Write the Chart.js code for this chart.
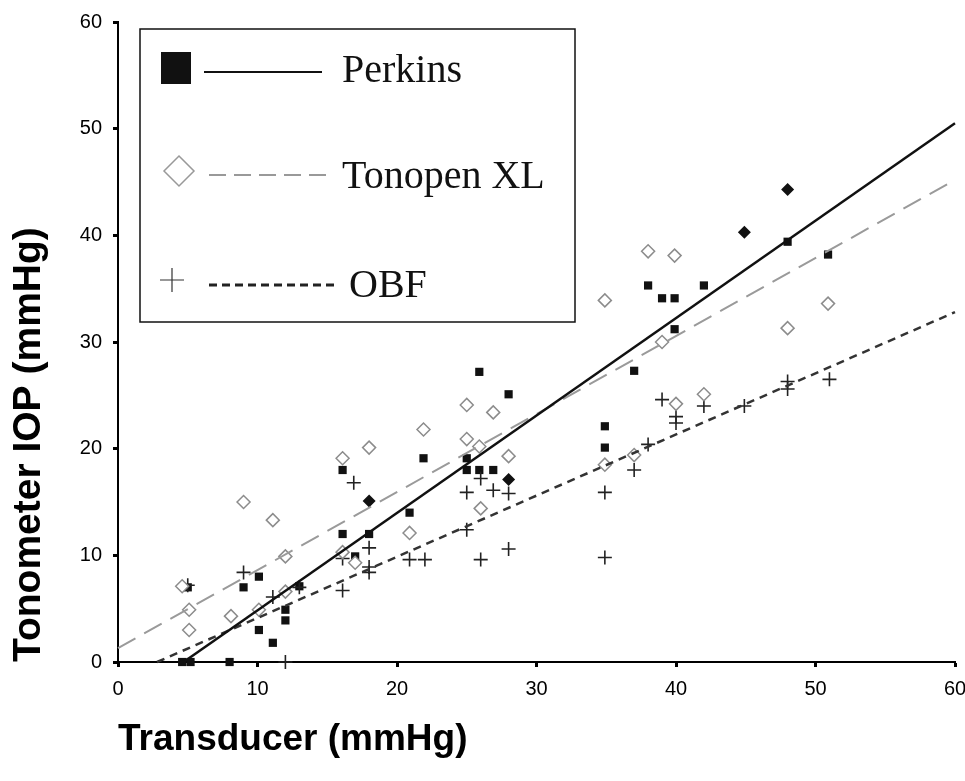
<!DOCTYPE html>
<html>
<head>
<meta charset="utf-8">
<script src="https://cdn.jsdelivr.net/npm/chart.js@4.4.1/dist/chart.umd.min.js"></script>
<style>
  html, body { margin: 0; padding: 0; background: #fff; }
  #wrap { width: 965px; height: 781px; }
</style>
</head>
<body>
<div id="wrap"><canvas id="iopChart" width="965" height="781"></canvas></div>
<script>
// --- Data (x = transducer mmHg, y = tonometer mmHg) ---
const perkinsX = [4.6, 5.2, 8, 5, 9, 10.1, 10.1, 11.1, 12, 12, 13, 16.1, 16.1, 17, 18, 20.9, 21.9, 25, 25, 25.9, 26.9, 25.9, 28, 34.9, 34.9, 37, 38, 39, 39.9, 39.9, 42, 48, 50.9];
const perkinsY = [0, 0, 0, 7, 7, 8, 3, 1.8, 4.9, 3.9, 7.1, 18, 12, 9.9, 12, 14, 19.1, 19.1, 18, 18, 18, 27.2, 25.1, 22.1, 20.1, 27.3, 35.3, 34.1, 34.1, 31.2, 35.3, 39.4, 38.2];

// Perkins points overlapping a Tonopen point (drawn as filled diamonds)
const overlapX = [18, 28, 44.9, 48];
const overlapY = [15.1, 17.1, 40.3, 44.3];

const tonopenX = [4.6, 5.1, 5.1, 8.1, 9, 10.1, 11.1, 12, 12, 16.1, 16.1, 17, 18, 20.9, 21.9, 25, 25, 25.9, 26, 26.9, 28, 34.9, 34.9, 37, 38, 39, 39.9, 40, 42, 48, 50.9];
const tonopenY = [7.1, 4.9, 3.0, 4.3, 15, 4.9, 13.3, 9.9, 6.6, 19.1, 10.3, 9.3, 20.1, 12.1, 21.8, 24.1, 20.9, 20.2, 14.4, 23.4, 19.3, 33.9, 18.5, 19.4, 38.5, 30, 38.1, 24.2, 25.1, 31.3, 33.6];

const obfX = [5, 9, 11.1, 12, 13, 16.1, 16.1, 16.9, 18, 18, 18, 20.9, 22, 25, 25, 26, 26, 26.9, 28, 28, 34.9, 34.9, 37, 38, 39, 40, 40, 42, 44.9, 48, 48, 51];
const obfY = [7.2, 8.4, 6.1, 0, 7, 9.7, 6.7, 16.8, 10.7, 8.9, 8.4, 9.6, 9.6, 15.9, 12.4, 17.2, 9.6, 16.1, 15.8, 10.6, 15.9, 9.8, 18, 20.4, 24.6, 23, 22.4, 24, 24, 26.3, 25.6, 26.5];

// Regression line end points, as drawn
const perkinsFitX = [4.7, 60];
const perkinsFitY = [0, 50.5];
const tonopenFitX = [0, 60];
const tonopenFitY = [1.3, 45.2];
const obfFitX = [2.8, 60];
const obfFitY = [0, 32.8];

const xTicks = [0, 10, 20, 30, 40, 50, 60];
const yTicks = [0, 10, 20, 30, 40, 50, 60];

function pts(xs, ys) {
    return xs.map((x, i) => ({ x: x, y: ys[i] }));
}

const SANS = '"Liberation Sans", Arial, Helvetica, sans-serif';
const SERIF = '"Liberation Serif", "Times New Roman", serif';

// --- Legend box drawn inside the plot, like the original ---
const boxLegend = {
    id: 'boxLegend',
    afterDraw(chart) {
        const ctx = chart.ctx;
        const ox = chart.chartArea.left;   // 118
        const oy = chart.chartArea.top;    // 22
        const labels = ['Perkins', 'Tonopen XL', 'OBF'];
        ctx.save();
        ctx.fillStyle = '#fff';
        ctx.fillRect(ox + 22, oy + 7, 435, 293);
        ctx.strokeStyle = '#111';
        ctx.lineWidth = 1.5;
        ctx.strokeRect(ox + 22, oy + 7, 435, 293);

        // Perkins: filled square + solid line
        ctx.fillStyle = '#111';
        ctx.fillRect(ox + 43, oy + 30, 30, 32);
        ctx.beginPath();
        ctx.setLineDash([]);
        ctx.lineWidth = 2;
        ctx.strokeStyle = '#111';
        ctx.moveTo(ox + 86, oy + 50);
        ctx.lineTo(ox + 204, oy + 50);
        ctx.stroke();

        // Tonopen: open diamond + long dashes
        const dx = ox + 61, dy = oy + 149;
        ctx.beginPath();
        ctx.moveTo(dx, dy - 15);
        ctx.lineTo(dx + 15, dy);
        ctx.lineTo(dx, dy + 15);
        ctx.lineTo(dx - 15, dy);
        ctx.closePath();
        ctx.lineWidth = 1.5;
        ctx.strokeStyle = '#999';
        ctx.stroke();
        ctx.beginPath();
        ctx.setLineDash([17, 8]);
        ctx.lineWidth = 2;
        ctx.moveTo(ox + 91, oy + 153);
        ctx.lineTo(ox + 211, oy + 153);
        ctx.stroke();

        // OBF: plus + short dashes
        const px = ox + 54, py = oy + 258;
        ctx.beginPath();
        ctx.setLineDash([]);
        ctx.lineWidth = 1.2;
        ctx.strokeStyle = '#333';
        ctx.moveTo(px - 12, py);
        ctx.lineTo(px + 12, py);
        ctx.moveTo(px, py - 12);
        ctx.lineTo(px, py + 12);
        ctx.stroke();
        ctx.beginPath();
        ctx.setLineDash([8, 5]);
        ctx.lineWidth = 3;
        ctx.strokeStyle = '#222';
        ctx.moveTo(ox + 91, oy + 263);
        ctx.lineTo(ox + 219, oy + 263);
        ctx.stroke();

        ctx.setLineDash([]);
        ctx.fillStyle = '#111';
        ctx.font = '40px ' + SERIF;
        ctx.textBaseline = 'alphabetic';
        ctx.textAlign = 'left';
        ctx.fillText(labels[0], ox + 224, oy + 60);
        ctx.fillText(labels[1], ox + 224, oy + 166);
        ctx.fillText(labels[2], ox + 231, oy + 275);
        ctx.restore();
    }
};

const ctx = document.getElementById('iopChart').getContext('2d');
const iopChart = new Chart(ctx, {
    type: 'scatter',
    data: {
        datasets: [
            {
                label: 'Perkins fit',
                type: 'line',
                data: pts(perkinsFitX, perkinsFitY),
                borderColor: '#111',
                borderWidth: 2.5,
                pointRadius: 0,
                fill: false,
                clip: false
            },
            {
                label: 'Tonopen XL fit',
                type: 'line',
                data: pts(tonopenFitX, tonopenFitY),
                borderColor: '#9a9a9a',
                borderWidth: 2,
                borderDash: [20, 10],
                pointRadius: 0,
                fill: false,
                clip: false
            },
            {
                label: 'OBF fit',
                type: 'line',
                data: pts(obfFitX, obfFitY),
                borderColor: '#333',
                borderWidth: 2.5,
                borderDash: [8, 6],
                pointRadius: 0,
                fill: false,
                clip: false
            },
            {
                label: 'Tonopen XL',
                data: pts(tonopenX, tonopenY),
                pointStyle: 'rectRot',
                pointRadius: 6.5,
                borderWidth: 1.5,
                borderColor: '#8c8c8c',
                backgroundColor: '#fff',
                clip: false
            },
            {
                label: 'OBF',
                data: pts(obfX, obfY),
                pointStyle: 'cross',
                pointRadius: 7,
                borderWidth: 1.6,
                borderColor: '#222',
                clip: false
            },
            {
                label: 'Perkins',
                data: pts(perkinsX, perkinsY),
                pointStyle: 'rect',
                pointRadius: 5.8,
                borderWidth: 0,
                backgroundColor: '#111',
                clip: false
            },
            {
                label: 'Perkins (overlap)',
                data: pts(overlapX, overlapY),
                pointStyle: 'rectRot',
                pointRadius: 6.5,
                borderWidth: 0,
                backgroundColor: '#111',
                clip: false
            }
        ]
    },
    options: {
        responsive: false,
        animation: false,
        devicePixelRatio: 1,
        layout: { padding: { top: 22, right: 10, left: 0, bottom: 0 } },
        plugins: {
            legend: { display: false },
            tooltip: { enabled: false }
        },
        scales: {
            x: {
                type: 'linear',
                min: 0,
                max: 60,
                afterFit: (scale) => {
                    scale.height = 119;
                    scale.paddingLeft = 0;
                    scale.paddingRight = 0;
                },
                afterBuildTicks: (scale) => { scale.ticks = xTicks.map(v => ({ value: v })); },
                ticks: {
                    color: '#000',
                    padding: 10,
                    font: { family: SANS, size: 20 }
                },
                grid: {
                    drawOnChartArea: false,
                    tickLength: 5,
                    tickWidth: 3,
                    tickColor: '#000'
                },
                border: { color: '#000', width: 2 },
                title: {
                    display: true,
                    text: 'Transducer (mmHg)',
                    align: 'start',
                    color: '#000',
                    font: { family: SANS, size: 37, weight: 'bold' },
                    padding: { top: 0, bottom: 19 }
                }
            },
            y: {
                type: 'linear',
                min: 0,
                max: 60,
                afterFit: (scale) => {
                    scale.width = 118;
                    scale.paddingTop = 0;
                    scale.paddingBottom = 0;
                },
                afterBuildTicks: (scale) => { scale.ticks = yTicks.map(v => ({ value: v })); },
                ticks: {
                    color: '#000',
                    padding: 11,
                    font: { family: SANS, size: 20 }
                },
                grid: {
                    drawOnChartArea: false,
                    tickLength: 5,
                    tickWidth: 3,
                    tickColor: '#000'
                },
                border: { color: '#000', width: 2 },
                title: {
                    display: true,
                    text: 'Tonometer IOP (mmHg)',
                    align: 'start',
                    color: '#000',
                    font: { family: SANS, size: 39, weight: 'bold' },
                    padding: { top: 6, bottom: 0 }
                }
            }
        }
    },
    plugins: [boxLegend]
});
</script>
</body>
</html>
